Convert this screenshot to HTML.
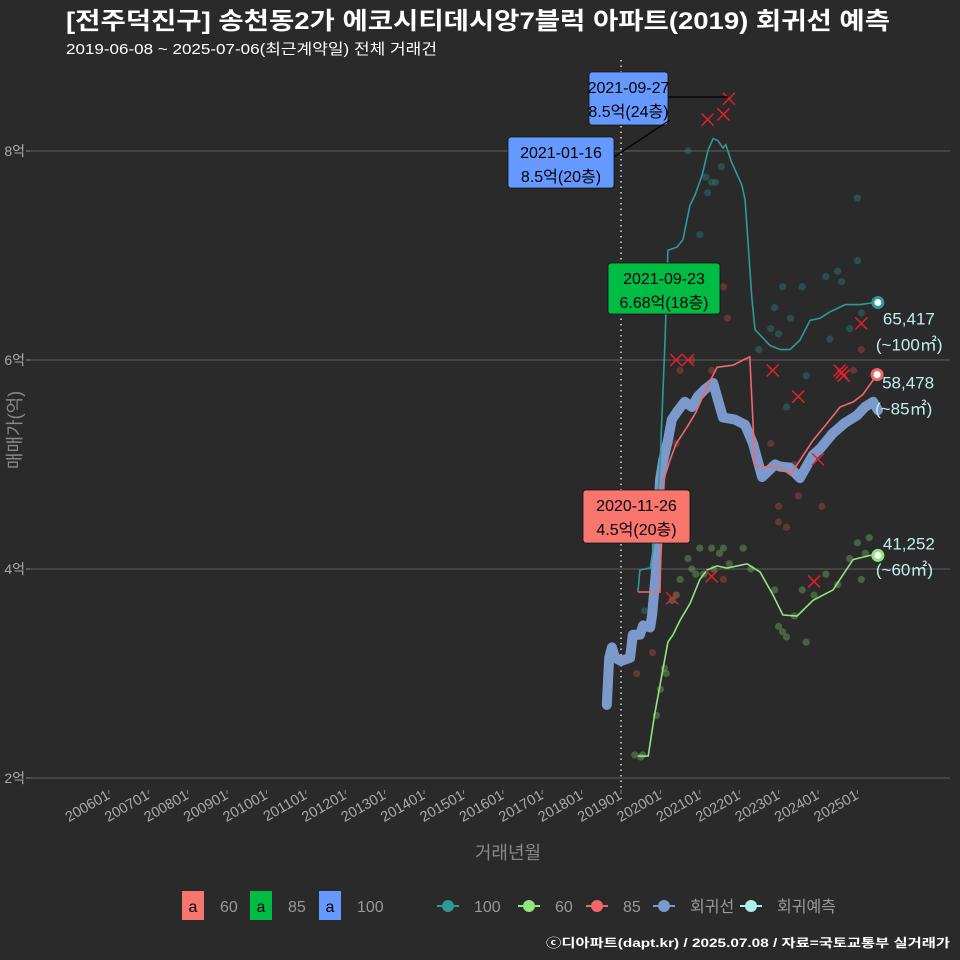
<!DOCTYPE html>
<html><head><meta charset="utf-8">
<style>
html,body{margin:0;padding:0;background:#2a2a2b;}
svg{display:block;font-family:"Liberation Sans","Noto Sans CJK KR",sans-serif;}
</style></head>
<body>
<svg id="chart" width="960" height="960" viewBox="0 0 960 960">
<rect x="0" y="0" width="960" height="960" fill="#2a2a2b"/>
<text x="66" y="29" fill="#ffffff" font-size="24" font-weight="bold" textLength="824" lengthAdjust="spacingAndGlyphs">[전주덕진구] 송천동2가 에코시티데시앙7블럭 아파트(2019) 회귀선 예측</text>
<text x="66" y="54" fill="#ffffff" font-size="15" textLength="371" lengthAdjust="spacingAndGlyphs">2019-06-08 ~ 2025-07-06(최근계약일) 전체 거래건</text>
<g id="grid"></g>
<g id="axes"></g>
<g id="marks"></g>
<g id="ann"></g>
<text transform="translate(21,430) rotate(-90)" text-anchor="middle" fill="#888" font-size="18">매매가(억)</text>
<text x="508" y="859" text-anchor="middle" fill="#888" font-size="18">거래년월</text>
<g id="legend" font-size="15"></g>
<text x="950" y="947" text-anchor="end" fill="#ffffff" font-size="12" font-weight="bold" textLength="404" lengthAdjust="spacingAndGlyphs">ⓒ디아파트(dapt.kr) / 2025.07.08 / 자료=국토교통부 실거래가</text>
</svg>
<script>
const yTicks=[2,4,6,8];
const yTickLabels=["2억","4억","6억","8억"];
const xTickLabels=["200601","200701","200801","200901","201001","201101","201201","201301","201401","201501","201601","201701","201801","201901","202001","202101","202201","202301","202401","202501"];
const xTickYears=[2006,2007,2008,2009,2010,2011,2012,2013,2014,2015,2016,2017,2018,2019,2020,2021,2022,2023,2024,2025];
const regYears=[2018.64,2018.70,2018.77,2018.85,2019.0,2019.23,2019.3,2019.48,2019.56,2019.74,2019.79,2019.89,2019.99,2020.07,2020.19,2020.29,2020.45,2020.62,2020.8,2020.95,2021.13,2021.34,2021.46,2021.59,2021.89,2022.15,2022.35,2022.58,2022.91,2023.04,2023.29,2023.54,2023.87,2024.05,2024.38,2024.69,2024.99,2025.19,2025.4,2025.52];
const regVals=[2.70,3.15,3.25,3.15,3.12,3.15,3.37,3.37,3.46,3.44,3.56,3.99,4.85,5.04,5.23,5.43,5.52,5.6,5.55,5.65,5.72,5.78,5.62,5.45,5.43,5.38,5.2,4.88,5.0,4.98,4.97,4.87,5.09,5.15,5.3,5.4,5.47,5.55,5.6,5.52];
const tealYears=[2019.43,2019.48,2019.74,2019.86,2019.99,2020.12,2020.19,2020.42,2020.57,2020.75,2020.88,2021.06,2021.21,2021.34,2021.46,2021.59,2021.66,2021.8,2022.07,2022.15,2022.32,2022.4,2022.53,2022.78,2023.04,2023.29,2023.54,2023.8,2024.05,2024.3,2024.69,2025.07,2025.45];
const tealVals=[3.78,3.99,4.01,4.3,5.0,6.2,7.05,7.08,7.15,7.48,7.58,7.77,8.01,8.12,8.1,8.03,8.06,7.9,7.67,7.53,6.6,6.29,6.24,6.14,6.10,6.10,6.19,6.38,6.40,6.46,6.53,6.53,6.55];
const redYears=[2019.43,2019.99,2020.04,2020.24,2020.4,2020.68,2020.9,2021.18,2021.44,2021.84,2022.1,2022.27,2022.4,2022.53,2023.04,2023.3,2023.54,2023.87,2024.2,2024.56,2024.9,2025.14,2025.5];
const redVals=[3.78,3.78,4.8,5.04,5.2,5.36,5.5,5.74,5.93,5.95,6.0,6.03,5.0,4.98,4.97,4.9,5.04,5.23,5.38,5.55,5.6,5.67,5.86];
const greenYears=[2019.43,2019.69,2019.85,2020.19,2020.32,2020.5,2020.75,2021.0,2021.18,2021.44,2021.69,2022.2,2022.53,2022.86,2023.11,2023.47,2023.87,2024.38,2024.89,2025.32,2025.52];
const greenVals=[2.21,2.21,2.6,3.3,3.37,3.51,3.67,3.9,3.99,4.03,4.01,4.05,3.97,3.75,3.56,3.55,3.70,3.80,4.09,4.13,4.13];
const tealDotYears=[2019.6,2020.0,2020.5,2020.7,2021.0,2021.15,2021.2,2021.3,2021.4,2021.55,2022.5,2022.8,2022.9,2023.0,2023.1,2023.2,2023.3,2023.6,2023.7,2024.2,2024.3,2024.5,2024.6,2024.8,2025.0,2025.0,2025.1];
const tealDotVals=[3.6,4.6,6.9,8.0,7.2,7.75,7.6,7.7,7.7,7.85,6.1,6.3,6.5,6.25,6.7,5.55,6.4,6.7,5.85,6.8,6.2,6.85,6.75,6.3,7.55,6.95,6.45];
const redDotYears=[2019.4,2019.8,2020.4,2020.5,2020.5,2020.8,2021.3,2021.6,2021.6,2021.7,2022.8,2023.0,2023.0,2023.2,2023.4,2023.5,2024.1,2024.3,2024.6,2024.9,2025.1];
const redDotVals=[3.0,3.2,5.2,5.9,4.5,6.0,5.9,6.7,3.9,6.4,5.2,4.6,4.45,4.4,5.0,4.7,4.6,5.3,5.4,5.9,6.1];
const greenDotYears=[2019.35,2019.5,2019.55,2019.9,2020.0,2020.1,2020.15,2020.3,2020.4,2020.5,2020.7,2020.8,2020.9,2021.0,2021.1,2021.3,2021.35,2021.5,2021.6,2021.75,2022.1,2022.3,2022.9,2023.0,2023.1,2023.2,2023.4,2023.6,2023.7,2023.9,2024.2,2024.5,2024.8,2025.0,2025.1,2025.2,2025.3];
const greenDotVals=[2.22,2.2,2.22,2.6,2.85,3.05,3.0,3.7,3.75,3.9,4.1,4.0,3.95,4.2,3.95,4.2,4.0,4.15,4.2,4.05,4.2,4.0,3.8,3.45,3.4,3.35,3.55,3.8,3.3,3.75,3.95,3.85,4.1,4.25,3.9,4.15,4.3];
const xmarkYears=[2021.2,2021.74,2021.6,2020.4,2020.7,2021.35,2022.85,2023.5,2024.0,2024.55,2024.6,2024.65,2025.1,2020.3,2021.3,2023.9];
const xmarkVals=[8.3,8.5,8.35,6.0,6.0,6.7,5.9,5.65,5.05,5.9,5.88,5.85,6.35,3.72,3.93,3.88];

const NS="http://www.w3.org/2000/svg";
const X0=30,X1=950,Y0=60,Y1=790;
function xs(t){return 621+(t-2019)*39.4;}
function ys(v){return 778-(v-2)*104.5;}
function mk(tag,attrs,parent){const e=document.createElementNS(NS,tag);for(const k in attrs)e.setAttribute(k,attrs[k]);parent.appendChild(e);return e;}
const grid=document.getElementById('grid'),axes=document.getElementById('axes'),marks=document.getElementById('marks'),ann=document.getElementById('ann'),legend=document.getElementById('legend');

yTicks.forEach((v,i)=>{
  const l=mk('line',{x1:X0,x2:X1,y1:ys(v),y2:ys(v),stroke:'#5e5e5e','stroke-width':1},grid);
  
  
  const tk=mk('line',{x1:X0-4,x2:X0,y1:ys(v),y2:ys(v),stroke:'#888'},axes);
  
  
  const t=mk('text',{x:X0-5,y:ys(v)+5,'text-anchor':'end',fill:'#aaa','font-size':14},axes);
  t.textContent=yTickLabels[i];
  
  
});
xTickYears.forEach((yr,i)=>{
  const x=xs(yr);
  const tk=mk('line',{x1:x,x2:x,y1:Y1,y2:Y1+4,stroke:'#888'},axes);
  
  
  const t=mk('text',{x:x+2,y:Y1+8,'text-anchor':'end',fill:'#aaa','font-size':14.5,transform:`rotate(-30 ${x+2} ${Y1+8})`},axes);
  t.textContent=xTickLabels[i];
  
  
});
const vl=mk('line',{x1:xs(2019),x2:xs(2019),y1:Y0,y2:Y1,stroke:'#ddd','stroke-width':1.5,'stroke-dasharray':'1.5 4'},axes);



function dots(yrs,vals,color,name){
  yrs.forEach((t,i)=>{
    const c=mk('circle',{cx:xs(t),cy:ys(vals[i]),r:3.6,fill:color,'fill-opacity':0.45},marks);
    
    
  });
}
dots(tealDotYears,tealDotVals,'#2a7d7a','scatter-100');
dots(redDotYears,redDotVals,'#a84448','scatter-85');
dots(greenDotYears,greenDotVals,'#6aa85e','scatter-60');

function path(yrs,vals){return yrs.map((t,i)=>(i?'L':'M')+xs(t).toFixed(1)+','+ys(vals[i]).toFixed(1)).join(' ');}
const reg=mk('path',{d:path(regYears,regVals),fill:'none',stroke:'#7b9acb','stroke-width':10,'stroke-linejoin':'round','stroke-linecap':'round'},marks);


const teal=mk('path',{d:path(tealYears,tealVals),fill:'none',stroke:'#2e9a96','stroke-width':1.6},marks);


const red=mk('path',{d:path(redYears,redVals),fill:'none',stroke:'#f0686a','stroke-width':1.6},marks);


const green=mk('path',{d:path(greenYears,greenVals),fill:'none',stroke:'#93e57f','stroke-width':1.6},marks);



xmarkYears.forEach((t,i)=>{
  const x=xs(t),y=ys(xmarkVals[i]);
  const g=mk('path',{d:`M${x-6},${y-6}L${x+6},${y+6}M${x-6},${y+6}L${x+6},${y-6}`,stroke:'#e0202a','stroke-width':1.5},marks);
  
  
});

const endYears=[2025.52,2025.5,2025.52];
const endVals=[6.55,5.86,4.13];
const endColors=['#2e9a96','#f0686a','#93e57f'];
const endText1=['65,417','58,478','41,252'];
const endText2=['(~100㎡)','(~85㎡)','(~60㎡)'];
endYears.forEach((t,i)=>{
  const x=xs(t),y=ys(endVals[i]);
  const c=mk('circle',{cx:x,cy:y,r:5,fill:'#fff',stroke:endColors[i],'stroke-width':3},ann);
  
  
  const a=mk('text',{x:x+5,y:y+(i==1?14:i==2?-6:22),fill:'#bff0ee','font-size':17},ann);
  a.textContent=endText1[i];
  
  
  const b=mk('text',{x:x-2,y:y+(i==1?40:i==2?20:48),fill:'#bff0ee','font-size':17},ann);
  b.textContent=endText2[i];
  
  
});

const boxes=[
 {x:589,y:72,w:79,h:53,fill:'#6699ff',t1:'2021-09-27',t2:'8.5억(24층)',lx1:668,ly1:97,lx2:728,ly2:97,name:'label-2021-09-27'},
 {x:508,y:137,w:106,h:51,fill:'#6699ff',t1:'2021-01-16',t2:'8.5억(20층)',lx1:614,ly1:157,lx2:670,ly2:120,name:'label-2021-01-16'},
 {x:608,y:263,w:112,h:51,fill:'#00bb44',t1:'2021-09-23',t2:'6.68억(18층)',name:'label-2021-09-23'},
 {x:583,y:490,w:107,h:53,fill:'#f8766d',t1:'2020-11-26',t2:'4.5억(20층)',name:'label-2020-11-26'}
];
boxes.forEach(b=>{
  if(b.lx1){const l=mk('line',{x1:b.lx1,y1:b.ly1,x2:b.lx2,y2:b.ly2,stroke:'#000','stroke-width':1.3},ann);
    
    }
  const r=mk('rect',{x:b.x,y:b.y,width:b.w,height:b.h,rx:3,fill:b.fill,stroke:'#111','stroke-width':0.8},ann);
  
  
  const t1=mk('text',{x:b.x+b.w/2,y:b.y+21,'text-anchor':'middle',fill:'#000','font-size':16},ann);
  t1.textContent=b.t1;
  
  
  const t2=mk('text',{x:b.x+b.w/2,y:b.y+45,'text-anchor':'middle',fill:'#000','font-size':16},ann);
  t2.textContent=b.t2;
  
  
});

const fillKeys=[{c:'#f8766d',l:'60',x:182},{c:'#00bb44',l:'85',x:250},{c:'#6699ff',l:'100',x:319}];
fillKeys.forEach(k=>{
  const r=mk('rect',{x:k.x,y:891,width:22,height:29,fill:k.c},legend);
  
  
  const a=mk('text',{x:k.x+11,y:912,'text-anchor':'middle',fill:'#000','font-size':16},legend);
  a.textContent='a';
  
  
  const t=mk('text',{x:k.x+38,y:912,fill:'#999','font-size':16},legend);
  t.textContent=k.l;
  
  
});
const lineKeys=[{c:'#2e9a96',l:'100',x:448},{c:'#93e57f',l:'60',x:529},{c:'#f0686a',l:'85',x:597},{c:'#7b9acb',l:'회귀선',x:664},{c:'#aef0ea',l:'회귀예측',x:751}];
lineKeys.forEach(k=>{
  const l=mk('line',{x1:k.x-11,x2:k.x+11,y1:906,y2:906,stroke:k.c,'stroke-width':2},legend);
  
  
  const c=mk('circle',{cx:k.x,cy:906,r:6,fill:k.c},legend);
  
  
  const t=mk('text',{x:k.x+26,y:912,fill:'#999','font-size':16},legend);
  t.textContent=k.l;
  
  
});
</script>
</body></html>
